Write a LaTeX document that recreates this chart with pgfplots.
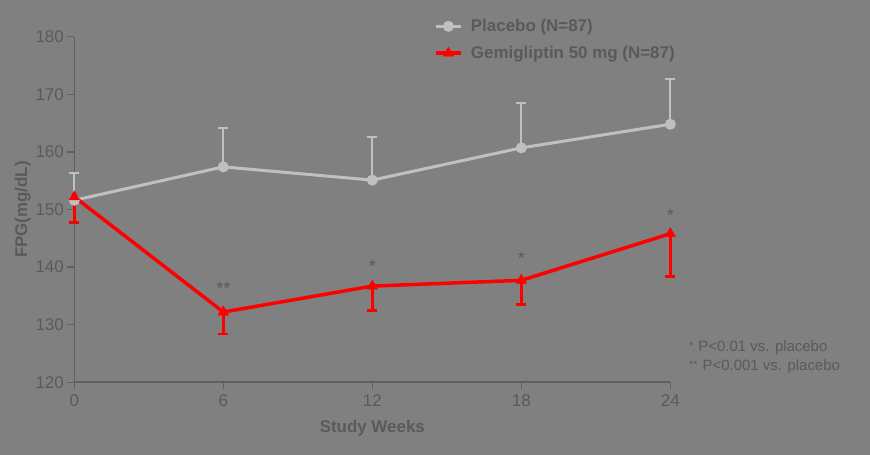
\documentclass[border=0pt]{standalone}
\usepackage{pgfplots}
\pgfplotsset{compat=1.18}
\usepackage{fontspec}
\setmainfont{Liberation Sans}
\definecolor{bg}{HTML}{808080}
\definecolor{txt}{HTML}{5A5A5A}
\definecolor{axc}{HTML}{606060}
\definecolor{plc}{HTML}{C0C0C0}
\definecolor{gem}{HTML}{FF0000}
\begin{document}
\begin{tikzpicture}[x=1bp,y=1bp]
\fill[bg] (0,0) rectangle (870,455);
\useasboundingbox (0,0) rectangle (870,455);
\begin{axis}[
  at={(74.3bp,72.7bp)}, anchor=south west,
  scale only axis, width=596bp, height=345.6bp,
  xmin=0, xmax=24, ymin=120, ymax=180,
  axis x line*=bottom, axis y line*=left,
  axis line style={axc, line width=1.6bp, -},
  xtick={0,6,12,18,24}, ytick={120,130,...,180},
  tick align=outside, major tick length=7bp,
  tick style={axc, line width=1.4bp},
  ticklabel style={font=\fontsize{17}{20}\selectfont, text=txt},
  xticklabel style={yshift=-2bp},
  /pgf/number format/assume math mode=true,
  xlabel={\textbf{Study Weeks}},
  ylabel={\textbf{FPG(mg/dL)}},
  label style={font=\fontsize{17}{20}\selectfont, text=txt},
  xlabel style={yshift=-7bp},
  ylabel style={yshift=-2bp},
  clip=false,
  legend style={at={(0.598,1.062)}, anchor=north west, draw=none, fill=none,
    font=\fontsize{17}{20}\selectfont\bfseries, text=txt, row sep=9bp, column sep=6bp},
  legend cell align=left,
  legend image code/.code={\draw[mark repeat=2,mark phase=2] plot coordinates {(0cm,0cm)(0.45cm,0cm)(0.9cm,0cm)};},
]
\addplot+[plc, line width=3bp, mark=*, mark size=5bp, mark options={fill=plc, draw=plc, line width=1bp},
  error bars/.cd, y dir=plus, y explicit,
  error bar style={plc, line width=2bp},
  error mark options={rotate=90, mark size=5bp, plc, line width=2bp}]
  coordinates {
  (0,151.6) +- (0,4.7)
  (6,157.4) +- (0,6.8)
  (12,155.1) +- (0,7.4)
  (18,160.7) +- (0,7.8)
  (24,164.8) +- (0,7.8)
  };
\addlegendentry{Placebo (N=87)}
\addplot+[gem, line width=3.5bp, mark=triangle*, mark size=6bp, mark options={fill=gem, draw=gem, line width=0.5bp},
  error bars/.cd, y dir=minus, y explicit,
  error bar style={gem, line width=2.5bp},
  error mark options={rotate=90, mark size=5bp, gem, line width=2.5bp}]
  coordinates {
  (0,152.2) +- (0,4.5)
  (6,132.2) +- (0,3.8)
  (12,136.7) +- (0,4.2)
  (18,137.7) +- (0,4.2)
  (24,145.8) +- (0,7.4)
  };
\addlegendentry{Gemigliptin 50 mg (N=87)}
\node[text=txt, font=\fontsize{18}{18}\selectfont] at (axis cs:6,136.3) {**};
\node[text=txt, font=\fontsize{18}{18}\selectfont] at (axis cs:12,140.1) {*};
\node[text=txt, font=\fontsize{18}{18}\selectfont] at (axis cs:18,141.6) {*};
\node[text=txt, font=\fontsize{18}{18}\selectfont] at (axis cs:24,148.9) {*};
\end{axis}
\node[anchor=west, text=txt, font=\fontsize{15}{15}\selectfont, inner sep=0pt] at (689,107) {\raisebox{0.35ex}{\fontsize{11}{11}\selectfont *}\,\,P<0.01 vs. placebo};
\node[anchor=west, text=txt, font=\fontsize{15}{15}\selectfont, inner sep=0pt] at (689,88) {\raisebox{0.35ex}{\fontsize{11}{11}\selectfont **}\,\,P<0.001 vs. placebo};
\end{tikzpicture}
\end{document}
